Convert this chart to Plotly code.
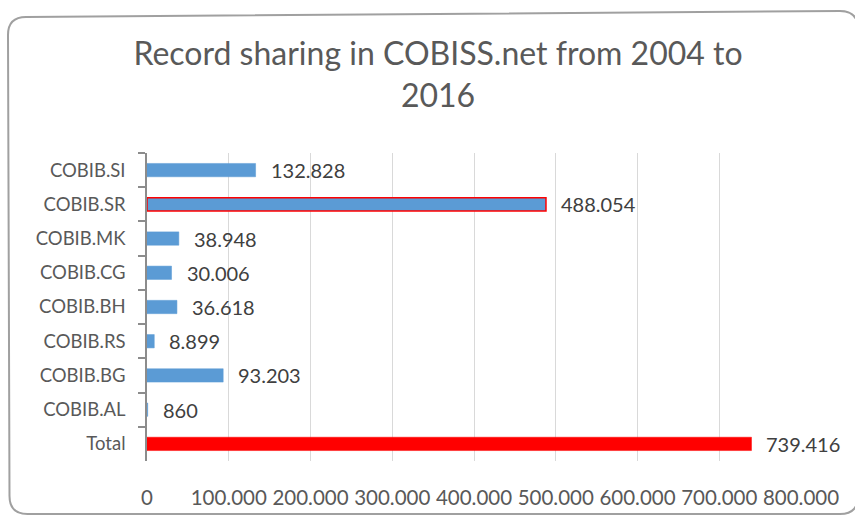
import plotly.graph_objects as go

categories = ["COBIB.SI", "COBIB.SR", "COBIB.MK", "COBIB.CG", "COBIB.BH",
              "COBIB.RS", "COBIB.BG", "COBIB.AL", "Total"]
values = [132828, 488054, 38948, 30006, 36618, 8899, 93203, 860, 739416]
x_ticks = [0, 100000, 200000, 300000, 400000, 500000, 600000, 700000, 800000]
x_tick_labels = ["0", "100.000", "200.000", "300.000", "400.000",
                 "500.000", "600.000", "700.000", "800.000"]
title_text = "Record sharing in COBISS.net from 2004 to<br>2016"

BLUE = "#5b9bd5"
RED = "#ff0000"
GRAY = "#595959"
FONT = "Lato"

fill_colors = [RED if c == "Total" else BLUE for c in categories]
line_colors = [RED if c in ("COBIB.SR", "Total") else BLUE for c in categories]
line_widths = [1.5 if c == "COBIB.SR" else 0.5 for c in categories]

W, H = 855, 515
ML, MR, MT, MB = 147, 54, 153, 54

fig = go.Figure()
fig.add_trace(go.Bar(
    x=values, y=categories, orientation="h",
    marker=dict(color=fill_colors, line=dict(color=line_colors, width=line_widths)),
    hoverinfo="x+y",
))

def fmt(v):
    return f"{v:,}".replace(",", ".")

for c, v in zip(categories, values):
    fig.add_annotation(x=v, y=c, text=fmt(v), showarrow=False,
                       xanchor="left", yanchor="middle", xshift=13,
                       font=dict(family=FONT, size=20, color="#404040"))

# rounded chart frame (pixel positions converted to paper coordinates)
pw, ph = W - ML - MR, H - MT - MB
def px(xp):
    return (xp - ML) / pw
def py(yp):
    return (H - MB - yp) / ph
L, R, TL, TR, B, r = 8, 858, 17, 11, 514, 18
path = (f"M {px(L)},{py(TL + r)} Q {px(L)},{py(TL)} {px(L + r)},{py(TL)} "
        f"L {px(R - r)},{py(TR)} Q {px(R)},{py(TR)} {px(R)},{py(TR + r)} "
        f"L {px(R)},{py(B - r)} Q {px(R)},{py(B)} {px(R - r)},{py(B)} "
        f"L {px(L + 1.5 + r)},{py(B)} Q {px(L + 1.5)},{py(B)} {px(L + 1.5)},{py(B - r)} Z")
fig.add_shape(type="path", path=path, xref="paper", yref="paper",
              line=dict(color="#a0a0a0", width=2), layer="below")

fig.update_layout(
    width=W, height=H,
    margin=dict(l=ML, r=MR, t=MT, b=MB, pad=0, autoexpand=False),
    paper_bgcolor="white", plot_bgcolor="white",
    showlegend=False,
    bargap=0.61,
    separators=",.",
    title=dict(text=title_text, x=438 / W, xref="container", xanchor="center",
               y=1 - 65 / H, yref="container", yanchor="top",
               font=dict(family=FONT, size=32, color=GRAY)),
    xaxis=dict(range=[0, 800000], tickvals=x_ticks, ticktext=x_tick_labels,
               showgrid=True, gridcolor="#d9d9d9", gridwidth=1,
               zeroline=False, showline=False, ticks="", automargin=False,
               ticklabelstandoff=22,
               tickfont=dict(family=FONT, size=20.5, color=GRAY)),
    yaxis=dict(type="category", categoryorder="array", categoryarray=categories,
               autorange="reversed", showgrid=False, zeroline=False,
               showline=True, linecolor="#8c8c8c", linewidth=1.5,
               ticks="outside", tickson="boundaries", ticklen=7,
               tickcolor="#8c8c8c", tickwidth=1.5, automargin=False,
               ticklabelstandoff=16,
               tickfont=dict(family=FONT, size=18.5, color=GRAY)),
    yaxis2=dict(overlaying="y", anchor="x", range=[len(categories) - 0.5, -0.5],
                tickvals=list(range(len(categories))), showticklabels=False,
                ticks="outside", ticklen=5, tickcolor="#8c8c8c", tickwidth=1.5,
                showgrid=False, zeroline=False, showline=False, automargin=False),
)

fig.write_html("out.html", config={"displayModeBar": False},
               post_script="document.body.style.margin='0px';document.body.style.overflow='hidden';")
